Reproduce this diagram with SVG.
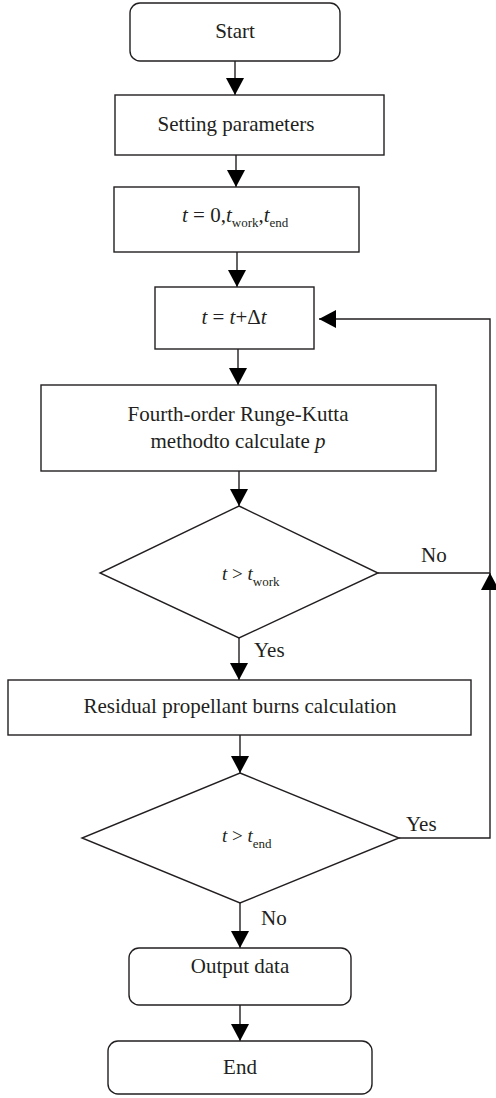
<svg xmlns="http://www.w3.org/2000/svg" width="496" height="1098" viewBox="0 0 496 1098">
<style>
.box{fill:#fff;stroke:#231f20;stroke-width:1.4}
.ln{fill:none;stroke:#231f20;stroke-width:1.4}
.t{font-family:"Liberation Serif",serif;font-size:21px;fill:#231f20}
.c{text-anchor:middle}
.i{font-style:italic}
.s{font-size:13px}
</style>
<defs>
<marker id="ah" markerUnits="userSpaceOnUse" markerWidth="19" markerHeight="19" refX="17" refY="9" orient="auto">
<path d="M0,0 L17,9 L0,18 Z" fill="#000"/>
</marker>
</defs>
<rect width="496" height="1098" fill="#fff"/>
<g id="connectors">
<line class="ln" x1="235" y1="61" x2="235" y2="95" marker-end="url(#ah)"/>
<line class="ln" x1="236" y1="155" x2="236" y2="187" marker-end="url(#ah)"/>
<line class="ln" x1="237" y1="252" x2="237" y2="287" marker-end="url(#ah)"/>
<line class="ln" x1="238" y1="349" x2="238" y2="385" marker-end="url(#ah)"/>
<line class="ln" x1="239" y1="471" x2="239" y2="506" marker-end="url(#ah)"/>
<line class="ln" x1="239" y1="638" x2="239" y2="680" marker-end="url(#ah)"/>
<line class="ln" x1="240" y1="735" x2="240" y2="773" marker-end="url(#ah)"/>
<line class="ln" x1="240" y1="903" x2="240" y2="948" marker-end="url(#ah)"/>
<line class="ln" x1="240" y1="1005" x2="240" y2="1041" marker-end="url(#ah)"/>
<polyline class="ln" points="378,573 490,573 490,319 319,319" marker-end="url(#ah)"/>
<polyline class="ln" points="399,838 490,838 490,573" marker-end="url(#ah)"/>
<text class="t" x="421" y="562">No</text>
<text class="t" x="254" y="657">Yes</text>
<text class="t" x="406" y="831">Yes</text>
<text class="t" x="261" y="925">No</text>
</g>
<g id="start">
<rect class="box" x="130" y="3" width="210" height="58" rx="10"/>
<text class="t c" x="235" y="38">Start</text>
</g>
<g id="setting">
<rect class="box" x="115" y="95" width="269" height="60"/>
<text class="t c" x="236" y="131">Setting parameters</text>
</g>
<g id="init">
<rect class="box" x="114" y="187" width="245" height="65"/>
<text class="t" x="182" y="222"><tspan class="i">t</tspan> = 0,<tspan class="i">t</tspan><tspan class="s" dy="5">work</tspan><tspan dy="-5">,</tspan><tspan class="i">t</tspan><tspan class="s" dy="5">end</tspan></text>
</g>
<g id="step">
<rect class="box" x="155" y="287" width="159" height="62"/>
<text class="t c" x="234" y="324"><tspan class="i">t</tspan> = <tspan class="i">t</tspan>+Δ<tspan class="i">t</tspan></text>
</g>
<g id="rk">
<rect class="box" x="41" y="385" width="395" height="86"/>
<text class="t c" x="238" y="421">Fourth-order Runge-Kutta</text>
<text class="t c" x="238" y="448">methodto calculate <tspan class="i">p</tspan></text>
</g>
<g id="dec1">
<polygon class="box" points="239,506 378,573 239,638 100,573"/>
<text class="t" x="222" y="580" style="font-size:19px"><tspan class="i">t</tspan> &gt; <tspan class="i">t</tspan><tspan class="s" dy="6">work</tspan></text>
</g>
<g id="residual">
<rect class="box" x="8" y="680" width="463" height="55"/>
<text class="t c" x="240" y="713">Residual propellant burns calculation</text>
</g>
<g id="dec2">
<polygon class="box" points="240,773 399,838 240,903 82,838"/>
<text class="t" x="222" y="842" style="font-size:19px"><tspan class="i">t</tspan> &gt; <tspan class="i">t</tspan><tspan class="s" dy="6">end</tspan></text>
</g>
<g id="output">
<rect class="box" x="129" y="948" width="222" height="57" rx="10"/>
<text class="t c" x="240" y="973">Output data</text>
</g>
<g id="end">
<rect class="box" x="108" y="1041" width="264" height="53" rx="10"/>
<text class="t c" x="240" y="1074">End</text>
</g>
</svg>
